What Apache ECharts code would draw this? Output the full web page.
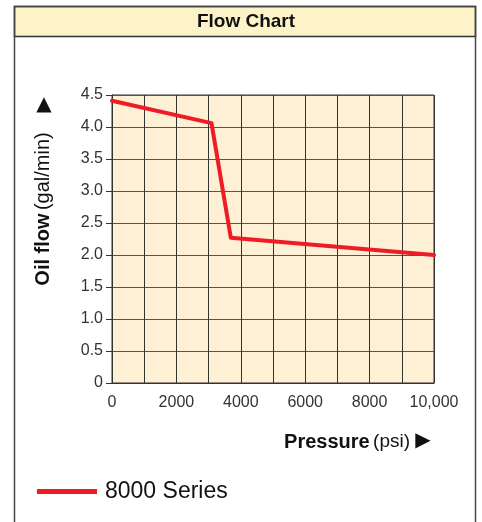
<!DOCTYPE html>
<html>
<head>
<meta charset="utf-8">
<script src="https://cdn.jsdelivr.net/npm/echarts@6/dist/echarts.min.js"></script>
<style>
  html, body { margin: 0; padding: 0; background: #fff; }
  #chart { width: 482px; height: 522px; }
</style>
</head>
<body>
<div id="chart"></div>
<script>
// values
const seriesName = '8000 Series';
const pressure = [0, 3090, 3690, 10000];
const oilFlow = [4.41, 4.06, 2.27, 2.0];

const font = '"Liberation Sans", Arial, sans-serif';

const chart = echarts.init(document.getElementById('chart'));

const option = {
  animation: false,
  textStyle: { fontFamily: font },
  grid: {
    left: 112,
    right: 48,
    top: 95,
    bottom: 139,
    show: true,
    backgroundColor: '#fdf0d4',
    borderColor: '#333',
    borderWidth: 1
  },
  legend: {
    left: 32,
    top: 475,
    icon: 'rect',
    itemWidth: 60,
    itemHeight: 5,
    textStyle: { fontSize: 23, color: '#111', fontFamily: font, padding: [0, 0, 0, 3] },
    data: [seriesName]
  },
  xAxis: {
    type: 'value',
    min: 0,
    max: 10000,
    interval: 1000,
    axisLine: { lineStyle: { color: '#333', width: 1 } },
    axisTick: { show: false },
    splitLine: { lineStyle: { color: '#333', width: 1 } },
    axisLabel: {
      color: '#333',
      fontSize: 16,
      margin: 12,
      formatter: v => (v % 2000 !== 0 ? '' : v === 10000 ? '10,000' : String(v))
    }
  },
  yAxis: {
    type: 'value',
    min: 0,
    max: 4.5,
    interval: 0.5,
    axisLine: { show: true, lineStyle: { color: '#333', width: 1 } },
    axisTick: { show: true, length: 6, lineStyle: { color: '#333' } },
    splitLine: { lineStyle: { color: '#555', width: 1 } },
    axisLabel: {
      color: '#333',
      fontSize: 16,
      margin: 9,
      formatter: v => (v === 0 ? '0' : v.toFixed(1))
    }
  },
  series: [{
    name: seriesName,
    type: 'line',
    data: pressure.map((p, i) => [p, oilFlow[i]]),
    showSymbol: false,
    color: '#ee1c25',
    lineStyle: { width: 4, cap: 'round', join: 'round' }
  }],
  graphic: [
    {
      type: 'rect',
      shape: { x: 14.5, y: 6.5, width: 461, height: 540 },
      style: { fill: 'none', stroke: '#444', lineWidth: 1.5 },
      z: 10
    },
    {
      type: 'rect',
      shape: { x: 14.5, y: 6.5, width: 461, height: 30 },
      style: { fill: '#fdf3c9', stroke: '#333', lineWidth: 1.5 },
      z: 9
    },
    {
      type: 'text',
      x: 246, y: 22,
      style: {
        text: 'Flow Chart',
        font: 'bold 19px ' + font,
        fill: '#111',
        textAlign: 'center',
        textVerticalAlign: 'middle'
      },
      z: 11
    },
    {
      type: 'text',
      x: 43, y: 209,
      rotation: Math.PI / 2,
      style: {
        text: '{b|Oil flow} {n|(gal/min)}',
        textAlign: 'center',
        textVerticalAlign: 'middle',
        rich: {
          b: { font: 'bold 20px ' + font, fill: '#111' },
          n: { font: '20px ' + font, fill: '#111' }
        }
      }
    },
    {
      type: 'text',
      x: 44, y: 105,
      style: {
        text: '\u25B2',
        font: '20px "DejaVu Sans"',
        fill: '#111',
        textAlign: 'center',
        textVerticalAlign: 'middle'
      }
    },
    {
      type: 'text',
      x: 410, y: 442,
      style: {
        text: '{b|Pressure} {n|(psi)}',
        textAlign: 'right',
        textVerticalAlign: 'middle',
        rich: {
          b: { font: 'bold 20px ' + font, fill: '#111' },
          n: { font: '19px ' + font, fill: '#111' }
        }
      }
    },
    {
      type: 'text',
      x: 423, y: 441,
      style: {
        text: '\u25B6',
        font: '20px "DejaVu Sans"',
        fill: '#111',
        textAlign: 'center',
        textVerticalAlign: 'middle'
      }
    }
  ]
};

chart.setOption(option);
</script>
</body>
</html>
